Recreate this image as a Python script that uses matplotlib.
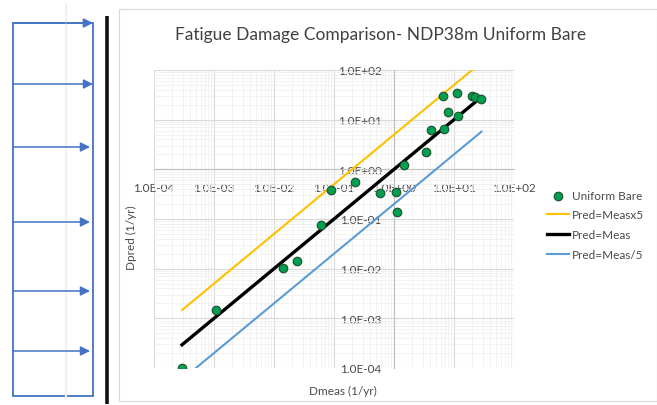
import matplotlib.pyplot as plt
import numpy as np
from matplotlib.patches import Rectangle
from matplotlib.ticker import LogLocator, FixedLocator, FuncFormatter, NullFormatter

# measured vs predicted fatigue damage (1/yr)
d_meas = [2.93e-4, 1.10e-3, 0.0143, 0.0239, 0.060, 0.0908, 0.224, 0.585, 1.07, 1.14, 1.49,
          3.41, 4.06, 6.81, 6.55, 8.03, 11.8, 11.1, 20.0, 22.4, 28.7]
d_pred = [1.0e-4, 1.47e-3, 0.0104, 0.0141, 0.0757, 0.384, 0.556, 0.341, 0.344, 0.140, 1.20,
          2.23, 6.19, 6.49, 29.9, 14.6, 11.8, 34.4, 29.9, 28.6, 26.1]

# reference lines span the measured range
line_x = [2.93e-4, 28.7]
ratios = [5, 1, 0.2]
ratio_labels = ['Pred=Measx5', 'Pred=Meas', 'Pred=Meas/5']
ratio_colors = ['#FFC000', '#000000', '#5B9BD5']
ratio_widths = [1.5, 2.4, 1.5]

decades = [1e-4, 1e-3, 1e-2, 1e-1, 1e0, 1e1, 1e2]

W, H = 657, 406
fontsize = 8.5
txt_color = '#4a4a4a'
plt.rcParams['font.family'] = ['Lato', 'DejaVu Sans']

fig = plt.figure(figsize=(W / 100, H / 100), dpi=100)

# background panel: box with arrows and the divider bar
deco = fig.add_axes([0, 0, 1, 1])
deco.set_xlim(0, W)
deco.set_ylim(H, 0)
deco.axis('off')
blue = '#4472C4'
deco.add_patch(Rectangle((13, 24), 80, 373, fill=False, edgecolor=blue, linewidth=1.3))
arrow_rows = [24, 85, 148, 223, 292, 352]
arrow_tips = [93, 93, 90, 90, 90, 90]
for yy, tip in zip(arrow_rows, arrow_tips):
    deco.annotate('', xy=(tip, yy), xytext=(13, yy),
                  arrowprops=dict(arrowstyle='-|>', color=blue, lw=1.1,
                                  mutation_scale=14, shrinkA=0, shrinkB=0))
deco.plot([66, 66], [5, 400], color='#f0f0f0', linewidth=1.5)
deco.plot([107, 107], [17, 405], color='#111111', linewidth=2.6, solid_capstyle='butt')
deco.add_patch(Rectangle((119, 10), W - 119, 392, fill=True, facecolor='white',
                         edgecolor='#d9d9d9', linewidth=0.8))

# plot area
left, top, right, bottom = 154, 71, 514, 369
ax = fig.add_axes([left / W, 1 - bottom / H, (right - left) / W, (bottom - top) / H])
ax.set_xscale('log')
ax.set_yscale('log')
ax.set_xlim(decades[0], decades[-1])
ax.set_ylim(decades[0], decades[-1])
ax.patch.set_alpha(0)

for sub in ['top', 'right']:
    ax.spines[sub].set_visible(False)
for sub in ['left', 'bottom']:
    ax.spines[sub].set_position(('data', 1))
    ax.spines[sub].set_color('#bfbfbf')
    ax.spines[sub].set_linewidth(0.8)

fmt = FuncFormatter(lambda v, pos: f'{v:.1E}')
ax.xaxis.set_major_locator(FixedLocator(decades))
ax.yaxis.set_major_locator(FixedLocator(decades))
ax.xaxis.set_minor_locator(LogLocator(base=10, subs=np.arange(2, 10), numticks=20))
ax.yaxis.set_minor_locator(LogLocator(base=10, subs=np.arange(2, 10), numticks=20))
ax.xaxis.set_major_formatter(fmt)
ax.yaxis.set_major_formatter(fmt)
ax.xaxis.set_minor_formatter(NullFormatter())
ax.yaxis.set_minor_formatter(NullFormatter())
ax.tick_params(axis='both', which='both', length=0, labelsize=fontsize, labelcolor=txt_color)
ax.tick_params(axis='x', pad=9)
ax.tick_params(axis='y', pad=9)

ax.grid(True, which='major', color='#d9d9d9', linewidth=0.8)
ax.grid(True, which='minor', color='#f0f0f0', linewidth=0.6)
ax.set_axisbelow(True)

lx = np.array(line_x)
for k, lab, col, lw in zip(ratios, ratio_labels, ratio_colors, ratio_widths):
    ax.plot(lx, k * lx, color=col, linewidth=lw, label=lab, zorder=3)

ax.scatter(d_meas, d_pred, s=38, color='#00A050', edgecolors='#1F4E2C', linewidths=0.8,
           label='Uniform Bare', zorder=4)

handles, labels = ax.get_legend_handles_labels()
order = [3, 0, 1, 2]
fig.legend([handles[i] for i in order], [labels[i] for i in order],
           loc='upper left', bbox_to_anchor=(536 / W, 1 - 180 / H), frameon=False,
           fontsize=fontsize, labelcolor=txt_color, handlelength=1.9, handletextpad=0.25,
           labelspacing=0.75)

fig.text(381 / W, 1 - 35 / H, 'Fatigue Damage Comparison- NDP38m Uniform Bare',
         ha='center', va='center', fontsize=12.5, color='#404040')
fig.text(131 / W, 1 - 238 / H, 'Dpred (1/yr)', rotation=90, ha='center', va='center',
         fontsize=fontsize, color=txt_color)
fig.text(343 / W, 1 - 391 / H, 'Dmeas (1/yr)', ha='center', va='center',
         fontsize=fontsize, color=txt_color)

fig.savefig('out.png', dpi=100)
